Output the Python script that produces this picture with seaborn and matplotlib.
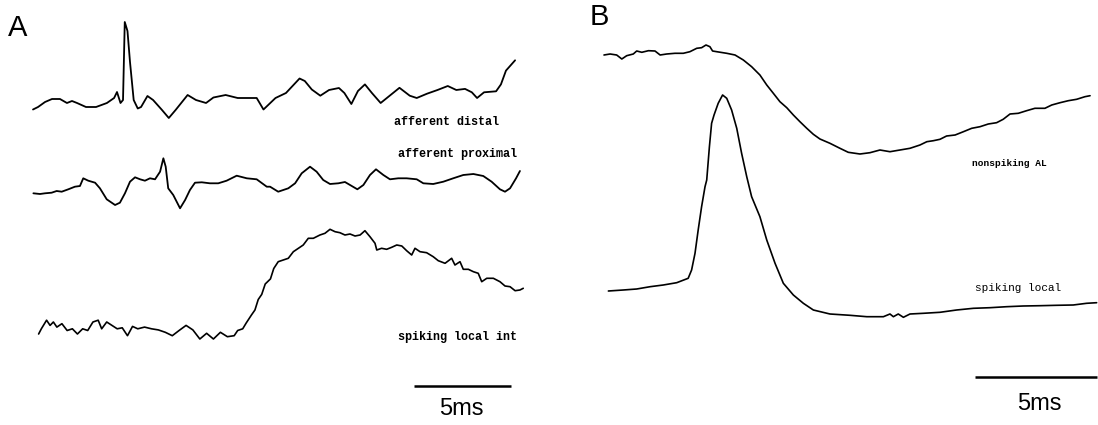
import numpy as np
import pandas as pd
import matplotlib
matplotlib.use("Agg")
import matplotlib.pyplot as plt
import seaborn as sns

# ---- panel A traces (time in ms, amplitude in arbitrary units) ----
dist_t = [0.00, 0.26, 0.62, 0.98, 1.39, 1.75, 2.01, 2.27, 2.73, 3.25, 3.81, 4.18, 4.33, 4.51,
          4.64, 4.73, 4.87, 5.00, 5.19, 5.40, 5.57, 5.90, 6.19, 6.65, 7.00, 7.35, 7.97, 8.40,
          8.92, 9.30, 9.93, 10.55, 10.90, 11.53, 11.88, 12.50, 13.04, 13.74, 14.01, 14.37,
          14.81, 15.26, 15.77, 16.05, 16.41, 16.75, 17.11, 17.47, 17.92, 18.45, 18.89, 19.42,
          19.78, 20.31, 20.85, 21.38, 21.82, 22.27, 22.62, 22.89, 23.25, 23.87, 24.12, 24.38, 24.85]
dist_v = [-0.45, -0.2, 0.3, 0.6, 0.6, 0.2, 0.4, 0.2, -0.2, -0.2, 0.2, 0.7, 1.3, 0.2,
          0.5, 8.3, 7.4, 4.3, 0.5, -0.35, -0.2, 0.9, 0.5, -0.5, -1.3, -0.5, 1.0, 0.5,
          0.2, 0.75, 1.0, 0.7, 0.7, 0.7, -0.45, 0.7, 1.2, 2.65, 2.4, 1.55,
          0.93, 1.5, 1.7, 1.2, 0.1, 1.4, 2.06, 1.2, 0.2, 1.03, 1.72, 0.93,
          0.7, 1.13, 1.5, 1.9, 1.5, 1.61, 1.27, 0.7, 1.27, 1.37, 2.06, 3.44, 4.47]

prox_t = [0.02, 0.36, 0.62, 0.96, 1.22, 1.48, 1.82, 2.16, 2.42, 2.59, 2.85, 3.20, 3.45, 3.80,
          4.23, 4.48, 4.74, 5.00, 5.26, 5.52, 5.77, 6.03, 6.29, 6.55, 6.72, 6.84, 6.97, 7.23,
          7.58, 7.84, 8.09, 8.35, 8.70, 9.12, 9.55, 9.98, 10.50, 11.02, 11.53, 12.05, 12.22,
          12.64, 13.16, 13.51, 13.85, 14.28, 14.62, 14.96, 15.31, 15.74, 16.08, 16.43, 16.72,
          17.03, 17.37, 17.68, 18.06, 18.40, 18.83, 19.26, 19.78, 20.12, 20.63, 21.15, 21.66,
          22.18, 22.70, 23.21, 23.64, 24.07, 24.33, 24.59, 24.90, 25.10]
prox_v = [-0.83, -0.9, -0.83, -0.77, -0.6, -0.67, -0.43, -0.17, -0.1, 0.67, 0.43, 0.23, -0.33, -1.43,
          -2.0, -1.77, -0.83, 0.33, 0.77, 0.57, 0.43, 0.67, 0.57, 1.33, 2.67, 1.83, -0.33, -1.0,
          -2.33, -1.5, -0.5, 0.23, 0.27, 0.17, 0.17, 0.43, 0.93, 0.67, 0.57, -0.17, -0.17,
          -0.67, -0.33, 0.17, 1.17, 1.83, 1.33, 0.5, 0.1, 0.17, 0.3, -0.1, -0.43,
          0.0, 1.0, 1.57, 1.0, 0.57, 0.67, 0.67, 0.57, 0.17, 0.1, 0.33, 0.67,
          1.0, 1.1, 0.9, 0.33, -0.43, -0.67, -0.33, 0.67, 1.4]

sli_t = [0.29, 0.43, 0.70, 0.88, 1.05, 1.23, 1.49, 1.76, 2.03, 2.29, 2.56, 2.82, 3.09, 3.36,
         3.54, 3.80, 4.07, 4.34, 4.60, 4.87, 5.13, 5.40, 5.75, 6.11, 6.46, 6.82, 7.18, 7.53,
         7.89, 8.24, 8.60, 8.95, 9.30, 9.66, 10.02, 10.37, 10.55, 10.81, 10.99, 11.26, 11.44,
         11.61, 11.79, 11.97, 12.24, 12.41, 12.64, 12.90, 13.16, 13.42, 13.68, 13.93, 14.19,
         14.45, 14.79, 15.05, 15.31, 15.57, 15.82, 16.08, 16.34, 16.60, 16.86, 17.11, 17.37,
         17.63, 17.72, 17.97, 18.23, 18.49, 18.75, 19.01, 19.26, 19.52, 19.69, 19.95, 20.29,
         20.63, 20.89, 21.24, 21.58, 21.75, 22.01, 22.18, 22.44, 22.70, 22.95, 23.13, 23.39,
         23.73, 24.07, 24.33, 24.59, 24.85, 25.10, 25.27]
sli_v = [-0.4, 0.12, 0.98, 0.46, 0.8, 0.29, 0.63, -0.05, 0.12, -0.4, 0.12, -0.05, 0.8, 0.98,
         0.12, 0.8, 0.46, 0.12, 0.22, -0.57, 0.36, 0.12, 0.29, 0.12, 0.01, -0.23, -0.57, -0.05,
         0.46, 0.01, -0.9, -0.33, -0.9, -0.23, -0.67, -0.57, -0.05, 0.12, 0.7, 1.5, 2.0,
         3.05, 3.56, 4.6, 5.11, 6.15, 6.83, 7.0, 7.17, 7.83, 8.17, 8.5, 9.17,
         9.17, 9.5, 9.67, 10.07, 9.83, 9.73, 9.5, 9.6, 9.4, 9.5, 9.93, 9.33,
         8.67, 8.0, 8.17, 8.07, 8.27, 8.5, 8.4, 7.93, 7.5, 8.17, 7.83, 7.73,
         7.33, 6.93, 6.67, 7.17, 6.5, 6.83, 6.07, 6.07, 5.83, 5.67, 4.83, 5.17,
         5.17, 4.83, 4.4, 4.33, 3.93, 4.0, 4.17]

# ---- panel B traces ----
nsal_t = [0.00, 0.25, 0.52, 0.73, 0.93, 1.20, 1.34, 1.55, 1.82, 2.09, 2.30, 2.57, 2.91, 3.25,
          3.52, 3.80, 4.00, 4.18, 4.34, 4.45, 4.62, 5.03, 5.37, 5.71, 6.05, 6.39, 6.67, 6.94,
          7.21, 7.49, 7.76, 8.03, 8.31, 8.58, 8.85, 9.26, 9.67, 10.01, 10.49, 10.90, 11.31,
          11.72, 12.13, 12.54, 12.95, 13.23, 13.50, 13.77, 14.04, 14.39, 14.73, 15.07, 15.41,
          15.75, 16.09, 16.36, 16.64, 16.98, 17.32, 17.66, 18.07, 18.35, 18.69, 19.03, 19.37,
          19.71, 19.92]
nsal_v = [0.0, 0.1, 0.0, -0.4, -0.07, 0.1, 0.4, 0.27, 0.43, 0.4, 0.0, 0.1, 0.17, 0.17,
          0.33, 0.67, 0.73, 1.0, 0.83, 0.4, 0.33, 0.17, 0.0, -0.5, -1.17, -2.0, -3.0, -3.83,
          -4.67, -5.27, -6.0, -6.67, -7.33, -7.93, -8.4, -8.83, -9.33, -9.73, -9.9, -9.77, -9.5,
          -9.67, -9.5, -9.33, -9.0, -8.67, -8.57, -8.43, -8.1, -8.0, -7.67, -7.33, -7.17,
          -6.9, -6.77, -6.43, -5.9, -5.83, -5.57, -5.33, -5.33, -5.0, -4.77, -4.57, -4.43,
          -4.17, -4.07]

slb_t = [0.18, 0.79, 1.34, 1.89, 2.43, 2.98, 3.45, 3.59, 3.73, 3.86, 4.00, 4.14, 4.21, 4.32,
         4.41, 4.51, 4.68, 4.86, 5.03, 5.23, 5.44, 5.64, 5.85, 6.05, 6.39, 6.67, 7.01, 7.35,
         7.76, 8.17, 8.58, 9.26, 10.08, 10.77, 11.45, 11.72, 11.86, 12.06, 12.27, 12.54,
         13.09, 13.77, 14.45, 15.14, 15.82, 16.50, 17.18, 17.87, 18.55, 19.23, 19.78, 20.19]
slb_v = [-0.1, 0.0, 0.1, 0.33, 0.5, 0.73, 1.17, 2.0, 3.67, 6.0, 8.33, 10.33, 11.0, 14.33,
         16.67, 17.5, 18.67, 19.5, 19.17, 18.0, 16.17, 13.67, 11.33, 9.33, 7.33, 5.0, 2.67, 0.67,
         -0.5, -1.33, -2.0, -2.4, -2.53, -2.67, -2.67, -2.4, -2.67, -2.4, -2.73, -2.4,
         -2.33, -2.23, -2.0, -1.83, -1.77, -1.67, -1.6, -1.57, -1.53, -1.5, -1.33, -1.27]

labels_a = ["afferent distal", "afferent proximal", "spiking local int"]
labels_b = ["nonspiking AL", "spiking local"]
scale_ms = 5
scale_text = "5ms"

sns.set_theme(style="white")
plt.rcParams["font.family"] = ["Liberation Sans", "DejaVu Sans"]
plt.rcParams["text.color"] = "black"

W, H = 1098, 425
fig = plt.figure(figsize=(W / 100, H / 100), dpi=100)
fig.patch.set_facecolor("white")

# panel axes: x in ms, y in units (1 unit = 10 px)
axA = fig.add_axes([0, 0, 549 / W, 1])
axB = fig.add_axes([549 / W, 0, 549 / W, 1])
axA.set_xlim(-33 / 19.4, (549 - 33) / 19.4)
axB.set_xlim(-55 / 24.4, (549 - 55) / 24.4)
for ax in (axA, axB):
    ax.set_ylim(0, 42.5)
    ax.set_axis_off()


def trace(ax, t, v, base, lw=1.3):
    df = pd.DataFrame({"t": t, "v": np.array(v) + base})
    sns.lineplot(data=df, x="t", y="v", ax=ax, color="black", lw=lw,
                 estimator=None, sort=False, legend=False)


trace(axA, dist_t, dist_v, 32.0)
trace(axA, prox_t, prox_v, 24.0)
trace(axA, sli_t, sli_v, 9.5, lw=1.2)
trace(axB, nsal_t, nsal_v, 37.0, lw=1.2)
trace(axB, slb_t, slb_v, 13.5, lw=1.2)

# scale bars
axA.plot([19.64, 19.64 + scale_ms], [3.9, 3.9], color="black", lw=1.8, solid_capstyle="butt")
axB.plot([15.2, 15.2 + scale_ms], [4.8, 4.8], color="black", lw=1.8, solid_capstyle="butt")
axA.text(22.08, 1.6, scale_text, ha="center", va="center", fontsize=17)
axB.text(17.83, 2.1, scale_text, ha="center", va="center", fontsize=17)

lab = dict(family=["Liberation Mono", "DejaVu Sans Mono"], fontweight="bold",
           ha="left", va="center", color="black")
axA.text(18.6, 30.3, labels_a[0], fontsize=8.5, **lab)
axA.text(18.81, 27.1, labels_a[1], fontsize=8.5, **lab)
axA.text(18.8, 8.8, labels_a[2], fontsize=8.5, **lab)
axB.text(15.08, 26.2, labels_b[0], fontsize=6.8, **lab)
axB.text(15.2, 13.7, labels_b[1], fontsize=8, family=["Liberation Mono", "DejaVu Sans Mono"],
         ha="left", va="center", color="black")

fig.text(8 / W, 1 - 28 / H, "A", fontsize=21, ha="left", va="center")
fig.text(590 / W, 1 - 17 / H, "B", fontsize=21, ha="left", va="center")

fig.savefig("out.png", dpi=100, facecolor="white")
